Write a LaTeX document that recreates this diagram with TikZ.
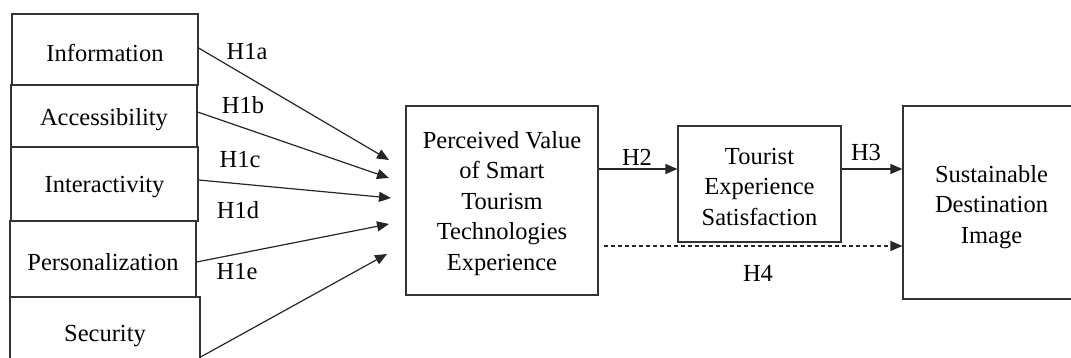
\documentclass[tikz,border=0pt]{standalone}
\usepackage{fontspec}
\setmainfont{Liberation Serif}
\usetikzlibrary{arrows.meta}
\begin{document}
\begin{tikzpicture}[x=1pt,y=-1pt,
  every node/.style={font=\fontsize{24.5}{30.5}\selectfont, text=black},
  box/.style={draw=black!80, line width=1.2pt, inner sep=0pt},
  txt/.style={align=center, inner sep=0pt},
  lbl/.style={inner sep=0pt},
  arr/.style={draw=black!85, line width=1.2pt, -{Triangle[length=12pt,width=10pt]}},
  dasharr/.style={arr, dash pattern=on 4pt off 3pt}]
\useasboundingbox (0,0) rectangle (1071,358);

% antecedent constructs
\node[box, minimum width=186pt, minimum height=71pt] (info)   at (105,49.5)  {};
\node[box, minimum width=186pt, minimum height=62pt] (access) at (104,116)   {};
\node[box, minimum width=187pt, minimum height=74pt] (inter)  at (104.5,184) {};
\node[box, minimum width=186pt, minimum height=76pt] (pers)   at (103,259)   {};
\node[box, minimum width=190pt, minimum height=75pt] (sec)    at (105,334.5) {};
\node[txt] (info-t)   at ([yshift=-3.5pt]info.center)   {Information};
\node[txt] (access-t) at ([yshift=-3.5pt]access.center) {Accessibility};
\node[txt] (inter-t)  at ([yshift=-3.5pt]inter.center)  {Interactivity};
\node[txt] (pers-t)   at ([yshift=-3.5pt]pers.center)   {Personalization};
\node[txt] (sec-t)    at ([yshift=-1.5pt]sec.center)    {Security};

% mediating and outcome constructs
\node[box, minimum width=192pt, minimum height=189pt] (pv)  at (502,200.5) {};
\node[box, minimum width=163pt, minimum height=116pt] (tes) at (759.5,184) {};
\node[box, minimum width=177pt, minimum height=193pt] (sdi) at (991.5,202.5) {};
\node[txt] (pv-t)  at ([yshift=-3pt]pv.center)
  {Perceived Value\\of Smart\\Tourism\\Technologies\\Experience};
\node[txt] (tes-t) at ([yshift=-3pt]tes.center)
  {Tourist\\Experience\\Satisfaction};
\node[txt] (sdi-t) at ([yshift=-4.5pt]sdi.center)
  {Sustainable\\Destination\\Image};

% arrow tips in front of the perceived value box
\coordinate (ta) at (389,160);
\coordinate (tb) at (389,178);
\coordinate (tc) at (391,198);
\coordinate (td) at (389,224);
\coordinate (te) at (387,254);

\draw[arr] ([yshift=1.5pt]info.east)  -- (ta);
\draw[arr] ([yshift=4pt]access.east)  -- (tb);
\draw[arr] ([yshift=4pt]inter.east)   -- (tc);
\draw[arr] ([yshift=-3pt]pers.east)   -- (td);
\draw[arr] ([yshift=-22.5pt]sec.east) -- (te);

\draw[arr] ([yshift=31.5pt]pv.east) -- ([yshift=15pt]tes.west);
\draw[arr] ([yshift=15pt]tes.east) -- ([yshift=33.5pt]sdi.west);
\draw[dasharr] ([xshift=5pt,yshift=-45.5pt]pv.east) -- ([yshift=-43.5pt]sdi.west);

% hypothesis labels
\node[lbl] (h1a) at (247,52)  {H1a};
\node[lbl] (h1b) at (243,105) {H1b};
\node[lbl] (h1c) at (240,160) {H1c};
\node[lbl] (h1d) at (238,210) {H1d};
\node[lbl] (h1e) at (237,272) {H1e};
\node[lbl] (h2)  at (637,157) {H2};
\node[lbl] (h3)  at (866,153) {H3};
\node[lbl] (h4)  at (758,273) {H4};
\end{tikzpicture}
\end{document}
